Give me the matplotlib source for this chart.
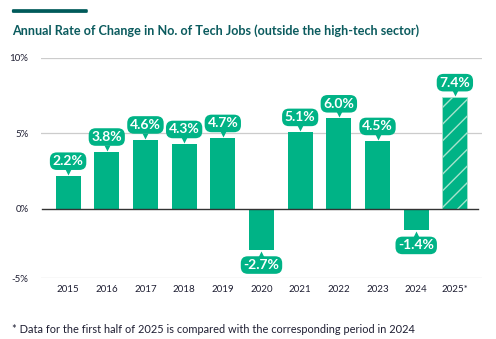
"""Annual rate of change in tech jobs outside the high-tech sector."""

import matplotlib
matplotlib.use("Agg")
import matplotlib.pyplot as plt
from matplotlib.patches import FancyBboxPatch
from matplotlib.transforms import offset_copy

# data
years = ["2015", "2016", "2017", "2018", "2019", "2020",
         "2021", "2022", "2023", "2024", "2025*"]
change_pct = [2.2, 3.8, 4.6, 4.3, 4.7, -2.7, 5.1, 6.0, 4.5, -1.4, 7.4]
partial_year = "2025*"

title = "Annual Rate of Change in No. of Tech Jobs (outside the high-tech sector)"
footnote = "* Data for the first half of 2025 is compared with the corresponding period in 2024"

GREEN = "#00b386"
TEAL = "#0b5b5e"
TEXT = "#1f1f33"

plt.rcParams["font.family"] = ["Lato", "DejaVu Sans"]
plt.rcParams["hatch.linewidth"] = 1.0

fig = plt.figure(figsize=(4.96, 3.39), dpi=100)
ax = fig.add_axes([0.0827, 0.179, 0.889, 0.650])

x = list(range(len(years)))
bars = ax.bar(x, change_pct, width=0.65, color=GREEN, linewidth=0, zorder=3)
for b, yr in zip(bars, years):
    if yr == partial_year:
        b.set_hatch("//")
        b.set_edgecolor("#a6e3cd")
        b.set_linewidth(0.6)

ymin = -4.59
ax.set_xlim(-0.7, len(years) - 0.3)
ax.set_ylim(ymin, 10)

# gridlines (bottom one is labelled -5%)
for gy in (ymin, 5, 10):
    ax.axhline(gy, color="#cccccc", lw=0.9, zorder=1)
ax.axhline(0, color="#333333", lw=1.0, zorder=4, xmin=0.003, xmax=0.99)

ax.set_yticks([ymin, 0, 5, 10])
ax.set_yticklabels(["-5%", "0%", "5%", "10%"])
ax.set_xticks(x)
ax.set_xticklabels(years)
ax.tick_params(axis="y", length=0, pad=9, labelsize=7, labelcolor=TEXT)
ax.tick_params(axis="x", length=0, pad=5, labelsize=7, labelcolor=TEXT)
for s in ax.spines.values():
    s.set_visible(False)

# value badges with a small pointer
for xi, v in zip(x, change_pct):
    off = 10.5 if v >= 0 else -11
    ax.annotate(f"{v:.1f}%", xy=(xi, v), xytext=(0, off), textcoords="offset points",
                ha="center", va="center", fontsize=10, fontweight="bold", color="white",
                zorder=6,
                bbox=dict(boxstyle="round,pad=0.2,rounding_size=0.5", fc=GREEN, ec="none"))
    tr = offset_copy(ax.transData, fig=fig, y=(2.8 if v >= 0 else -2.8), units="points")
    ax.plot(xi, v, marker="v" if v >= 0 else "^", ms=4, color=GREEN, mec="none",
            transform=tr, zorder=6, clip_on=False)

# header accent bar and title
fig.patches.append(FancyBboxPatch((0.026, 0.964), 0.149, 0.007,
                                  boxstyle="round,pad=0.002,rounding_size=0.003",
                                  transform=fig.transFigure, fc="#005a5a", ec="none"))
fig.text(0.024, 0.911, title, fontsize=9.1, fontweight="bold", color=TEAL, va="center")
fig.text(0.024, 0.029, footnote, fontsize=7.9, color=TEXT, va="center")

fig.savefig("out.png", dpi=100)
